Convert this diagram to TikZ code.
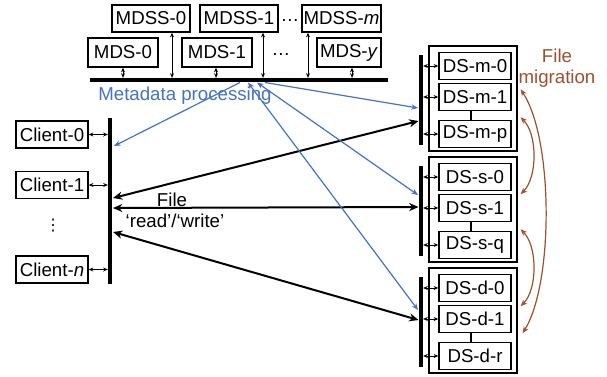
\documentclass[tikz,border=0pt]{standalone}
\usepackage{fontspec}
\setmainfont{Liberation Sans}
\newfontfamily\symfont{DejaVu Sans}
\usetikzlibrary{arrows.meta}

\definecolor{metablue}{RGB}{68,114,196}
\definecolor{migbrown}{RGB}{158,80,46}

\tikzset{
  box/.style={draw, line width=1.1pt, inner sep=0pt, minimum width=54pt, minimum height=20.25pt, font=\fontsize{14}{16}\selectfont},
  group/.style={draw, line width=0.9pt, minimum width=66pt, minimum height=78.75pt},
  bar/.style={line width=3.4pt},
  tick/.style={line width=0.7pt, shorten <=1.6pt, {Stealth[length=3.5pt,width=3pt]}-{Stealth[length=3.5pt,width=3pt]}},
  io/.style={line width=1.5pt, {Stealth[length=7pt,width=6pt]}-{Stealth[length=7pt,width=6pt]}},
  meta/.style={metablue, line width=0.9pt, -{Stealth[length=5pt,width=4pt]}},
  metab/.style={meta, {Stealth[length=5pt,width=4pt]}-{Stealth[length=5pt,width=4pt]}},
  mig/.style={migbrown, line width=0.9pt, {Stealth[length=5pt,width=4pt]}-{Stealth[length=5pt,width=4pt]}},
  lbl/.style={font=\fontsize{14}{16}\selectfont, inner sep=0pt}
}

\begin{document}
\begin{tikzpicture}[x=0.75pt, y=-0.75pt]
\useasboundingbox (0,0) rectangle (607,376);

% metadata servers
\node[box, minimum width=58.5pt] (mdss0) at (151,18.5) {MDSS-0};
\node[box, minimum width=58.5pt] (mdss1) at (239,18.5) {MDSS-1};
\node[lbl] (mdssdots) at (290,20) {\dots};
\node[box, minimum width=59pt] (mdssm) at (341.5,18.5) {MDSS-\textit{m}};

\node[box, minimum width=52.5pt, minimum height=21.75pt] (mds0) at (123,52.5) {MDS-0};
\node[box, minimum width=52.5pt, minimum height=21.75pt] (mds1) at (217,52.5) {MDS-1};
\node[lbl] (mdsdots) at (281,54) {\dots};
\node[box, minimum width=48pt, minimum height=21.75pt] (mdsy) at (349,52.5) {MDS-\textit{y}};

\coordinate (mw) at (90,80);
\coordinate (me) at (388,80);
\draw[bar] (mw) -- (me);
\foreach \n/\x in {mds0/123, mdss0/172, mds1/216, mdss1/263, mdssm/308, mdsy/352} {
  \coordinate (t-\n) at (\x,80);
  \draw[tick] (t-\n) -- (\n.south -| t-\n);
}
\node[lbl, text=metablue] (metalbl) at (185,96) {Metadata processing};

% clients
\coordinate (ct) at (110,118);
\coordinate (cb) at (110,284);
\draw[bar] (ct) -- (cb);
\node[box] (client0) at (52,134.5) {Client-0};
\node[box] (client1) at (52,185) {Client-1};
\node[lbl, font=\symfont\fontsize{12}{14}\selectfont] (cdots) at (53,226) {⋮};
\node[box] (clientn) at (52,269.5) {Client-\textit{n}};
\foreach \n in {client0, client1, clientn}
  \draw[tick] (\n.east -| ct) -- (\n.east);

% data servers
\foreach \g/\t/\l/\w in {m/46/p/0.8pt, s/157/q/1.8pt, d/268/r/1.8pt} {
  \node[group] (g\g) at (473,\t+52.5) {};
  \node[box] (ds-\g-0) at (475,\t+20) {DS-\g-0};
  \node[box] (ds-\g-1) at (475,\t+51) {DS-\g-1};
  \node[box] (ds-\g-2) at (475,\t+88) {DS-\g-\l};
  \draw[line width=\w] ([xshift=-3pt]ds-\g-1.south) -- ([xshift=-3pt]ds-\g-2.north);
  \coordinate (b\g-t) at (421,\t+9);
  \coordinate (b\g-b) at (421,\t+99);
  \draw[bar] (b\g-t) -- (b\g-b);
  \foreach \k in {0,1,2}
    \draw[tick] (ds-\g-\k.west -| b\g-t) -- (ds-\g-\k.west);
}

% file read/write
\coordinate (cio-m) at (113,198);
\coordinate (cio-s) at (113,208);
\coordinate (cio-d) at (113,232);
\coordinate (gio-m) at (418.5,121);
\coordinate (gio-s) at (418.5,207);
\coordinate (gio-d) at (418.5,320);
\draw[io] (cio-m) -- (gio-m);
\draw[io] (cio-s) -- (gio-s);
\draw[io] (cio-d) -- (gio-d);
\node[lbl] (filelbl) at (172,199.5) {File};
\node[lbl] (rwlbl) at (175,221) {`read'/`write'};

% metadata paths
\coordinate (mp-c) at (240,82.5);
\coordinate (mp-d) at (248,82.5);
\coordinate (mp-s) at (257,82.5);
\coordinate (mp-m) at (265,82.5);
\coordinate (cmeta) at (114,146);
\coordinate (gmeta-m) at (418,108);
\coordinate (gmeta-s) at (418,195);
\coordinate (gmeta-d) at (418,310);
\draw[meta] (mp-c) -- (cmeta);
\draw[meta] (mp-m) -- (gmeta-m);
\draw[metab] (mp-s) -- (gmeta-s);
\draw[metab] (mp-d) -- (gmeta-d);

% file migration
\node[lbl, text=migbrown, align=center] (miglbl) at (557,68) {File\\migration};
\draw[mig] ([shift={(3,6.5)}]gm.east |- ds-m-1.north) .. controls +(33,50) and +(31,-50) .. ([shift={(5,0)}]gd.east |- ds-d-1.south);
\draw[mig] ([shift={(3,-2.5)}]gm.east |- ds-m-2.north) .. controls +(17,17) and +(17,-17) .. ([shift={(3,0.5)}]gs.east |- ds-s-1.north);
\draw[mig] ([shift={(3,-1.5)}]gs.east |- ds-s-2.north) .. controls +(17,17) and +(17,-17) .. ([shift={(3,1.5)}]gd.east |- ds-d-1.north);
\end{tikzpicture}
\end{document}
